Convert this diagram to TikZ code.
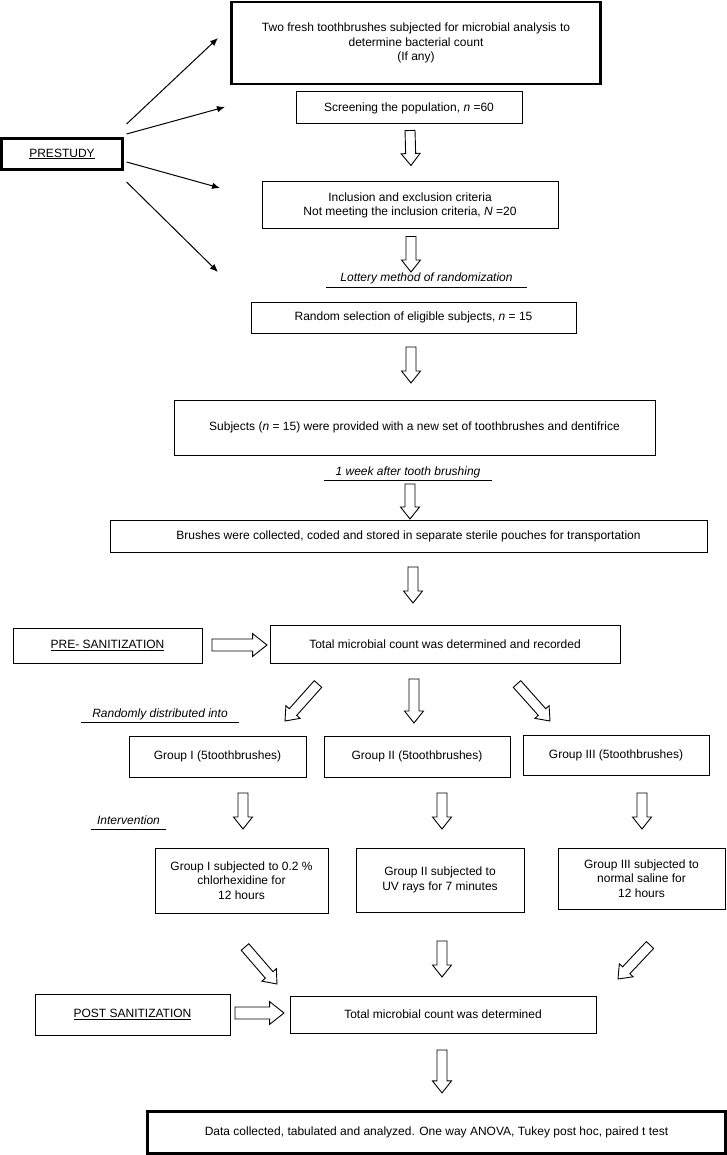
\documentclass[tikz,border=0pt]{standalone}
\usepackage{fontspec}
\setmainfont{Liberation Sans}
\usetikzlibrary{calc}
\usetikzlibrary{arrows.meta}
\tikzset{box/.style = {draw, line width=1pt, inner sep=0, align=center}}
\tikzset{heavy/.style = {box, line width=2.2pt}}
\tikzset{tag/.style = {font=\fontsize{12}{14.5}\selectfont\itshape, inner xsep=0, inner ysep=2.5pt, text height=8.5pt, text depth=2.5pt}}
\tikzset{hollow/.style = {draw, line width=0.9pt, fill=white, line join=miter}}
\tikzset{pointer/.style = {line width=1pt, -{Latex[length=8pt, width=6.5pt]}}}
\newcommand{\blockarrow}[3][5]{%
  \pgfmathsetmacro\bahead{#1*1.9}
  \pgfmathsetmacro\balen{#1*2.4}
  \coordinate (ba-s) at (#2);
  \coordinate (ba-e) at (#3);
  \coordinate (ba-h) at ($(ba-e)!\balen pt!(ba-s)$);
  \draw [hollow] ($(ba-s)!#1pt!90:(ba-e)$) -- ($(ba-h)!#1pt!90:(ba-e)$)
    -- ($(ba-h)!\bahead pt!90:(ba-e)$) -- (ba-e) -- ($(ba-h)!\bahead pt!-90:(ba-e)$)
    -- ($(ba-h)!#1pt!-90:(ba-e)$) -- ($(ba-s)!#1pt!-90:(ba-e)$) -- cycle;
}

\begin{document}
\begin{tikzpicture}[x=1pt, y=-1pt, font=\fontsize{12}{14.5}\selectfont]
  \useasboundingbox (0,0) rectangle (727,1155);

  % prestudy part
  \node [heavy, minimum width=121pt, minimum height=31pt] (prestudy) at (62,154) {\underline{PRESTUDY}};
  \node [heavy, minimum width=369pt, minimum height=82pt] (fresh) at (416,43)
    {Two fresh toothbrushes subjected for microbial analysis to\\determine bacterial count\\(If any)};
  \node [box, minimum width=226pt, minimum height=32pt] (screen) at (409,108) {Screening the population, \textit{n} =60};
  \node [box, minimum width=296pt, minimum height=47pt] (incl) at (410,205.5)
    {Inclusion and exclusion criteria\\Not meeting the inclusion criteria, \textit{N} =20};
  \node [tag, minimum width=201pt] (lottery) at (426.5,279) {Lottery method of randomization};
  \draw [line width=0.9pt] (lottery.south west) -- (lottery.south east);
  \node [box, minimum width=325pt, minimum height=31pt] (random) at (413.5,317.5) {Random selection of eligible subjects, \textit{n} = 15};
  \node [box, minimum width=481pt, minimum height=55pt] (subj) at (414.5,427.5)
    {Subjects (\textit{n} = 15) were provided with a new set of toothbrushes and dentifrice};
  \node [tag, minimum width=168pt] (week) at (408,472.5) {1 week after tooth brushing};
  \draw [line width=0.9pt] (week.south west) -- (week.south east);
  \node [box, minimum width=597pt, minimum height=32pt] (brushes) at (408.5,536)
    {Brushes were collected, coded and stored in separate sterile pouches for transportation};

  \coordinate (p1) at (218,38);
  \coordinate (p2) at (225,107);
  \coordinate (p3) at (220,188);
  \coordinate (p4) at (218,272);
  \draw [pointer] ($(prestudy.east)+(3,-30)$) -- (p1);
  \draw [pointer] ($(prestudy.east)+(3,-20)$) -- (p2);
  \draw [pointer] ($(prestudy.east)+(3,8)$) -- (p3);
  \draw [pointer] ($(prestudy.east)+(3,28)$) -- (p4);

  \blockarrow{$(screen.south)+(1,6)$}{$(incl.north)+(1,-16)$}
  \blockarrow{$(incl.south)+(1,7)$}{$(random.north)+(-2.5,-29.5)$}
  \blockarrow{$(random.south)+(-2.5,13.5)$}{$(subj.north)+(-3.5,-16.5)$}
  \blockarrow{$(subj.south)+(-4.5,28.5)$}{$(brushes.north)+(1.5,-0.5)$}

  % sanitization part
  \node [box, minimum width=189pt, minimum height=35pt] (presan) at (107.5,645.5) {\underline{PRE- SANITIZATION}};
  \node [box, minimum width=350pt, minimum height=38pt] (total1) at (445,644) {Total microbial count was determined and recorded};
  \blockarrow{$(brushes.south)+(4.5,14.5)$}{$(total1.north)+(-32,-21.5)$}
  \blockarrow[6]{$(presan.east)+(9.5,-0.5)$}{$(total1.west)+(-2.5,1)$}

  \node [tag, minimum width=158pt] (randomly) at (160,714.5) {Randomly distributed into};
  \draw [line width=0.9pt] (randomly.south west) -- (randomly.south east);
  \node [box, minimum width=177pt, minimum height=41pt] (g1) at (217.5,756.5) {Group I (5toothbrushes)};
  \node [box, minimum width=186pt, minimum height=41pt] (g2) at (417,756.5) {Group II (5toothbrushes)};
  \node [box, minimum width=186pt, minimum height=40pt] (g3) at (616,755) {Group III (5toothbrushes)};
  \blockarrow{$(total1.south)+(-127,20.5)$}{$(g1.north)+(67.5,-14.5)$}
  \blockarrow{$(total1.south)+(-31,15.5)$}{$(g2.north)+(-3,-12.5)$}
  \blockarrow{$(total1.south)+(72,20.5)$}{$(g3.north)+(-66,-13.5)$}

  \node [tag, minimum width=75pt] (interv) at (128.5,821.5) {Intervention};
  \draw [line width=0.9pt] (interv.south west) -- (interv.south east);
  \node [box, minimum width=173pt, minimum height=65pt] (ta) at (241.5,880.5) {Group I subjected to 0.2 \%\\chlorhexidine for\\12 hours};
  \node [box, minimum width=168pt, minimum height=64pt] (tb) at (440,880) {Group II subjected to\\UV rays for 7 minutes};
  \node [box, minimum width=167pt, minimum height=61pt] (tc) at (641.5,878.5) {Group III subjected to\\normal saline for\\12 hours};
  \blockarrow{$(g1.south)+(25.5,15.5)$}{$(ta.north)+(1.5,-18.5)$}
  \blockarrow{$(g2.south)+(25,15.5)$}{$(tb.north)+(2,-18.5)$}
  \blockarrow{$(g3.south)+(26,17.5)$}{$(tc.north)+(0.5,-18.5)$}

  \node [box, minimum width=195pt, minimum height=41pt] (postsan) at (132.5,1014.5) {\underline{POST SANITIZATION}};
  \node [box, minimum width=306pt, minimum height=37pt] (total2) at (443,1014.5) {Total microbial count was determined};
  \blockarrow{$(ta.south)+(3.5,33.5)$}{$(total2.north)+(-166,-11.5)$}
  \blockarrow{$(tb.south)+(2,28.5)$}{$(total2.north)+(-1,-18.5)$}
  \blockarrow{$(tc.south)+(8.5,35.5)$}{$(total2.north)+(175,-16.5)$}
  \blockarrow[6]{$(postsan.east)+(4.5,-1.5)$}{$(total2.west)+(-5.5,-1.5)$}

  \node [heavy, minimum width=578pt, minimum height=42pt] (final) at (436.5,1132.5)
    {Data collected, tabulated and analyzed. One way ANOVA, Tukey post hoc, paired t test};
  \blockarrow{$(total2.south)+(-1,16.5)$}{$(final.north)+(5.5,-17.5)$}
\end{tikzpicture}
\end{document}
